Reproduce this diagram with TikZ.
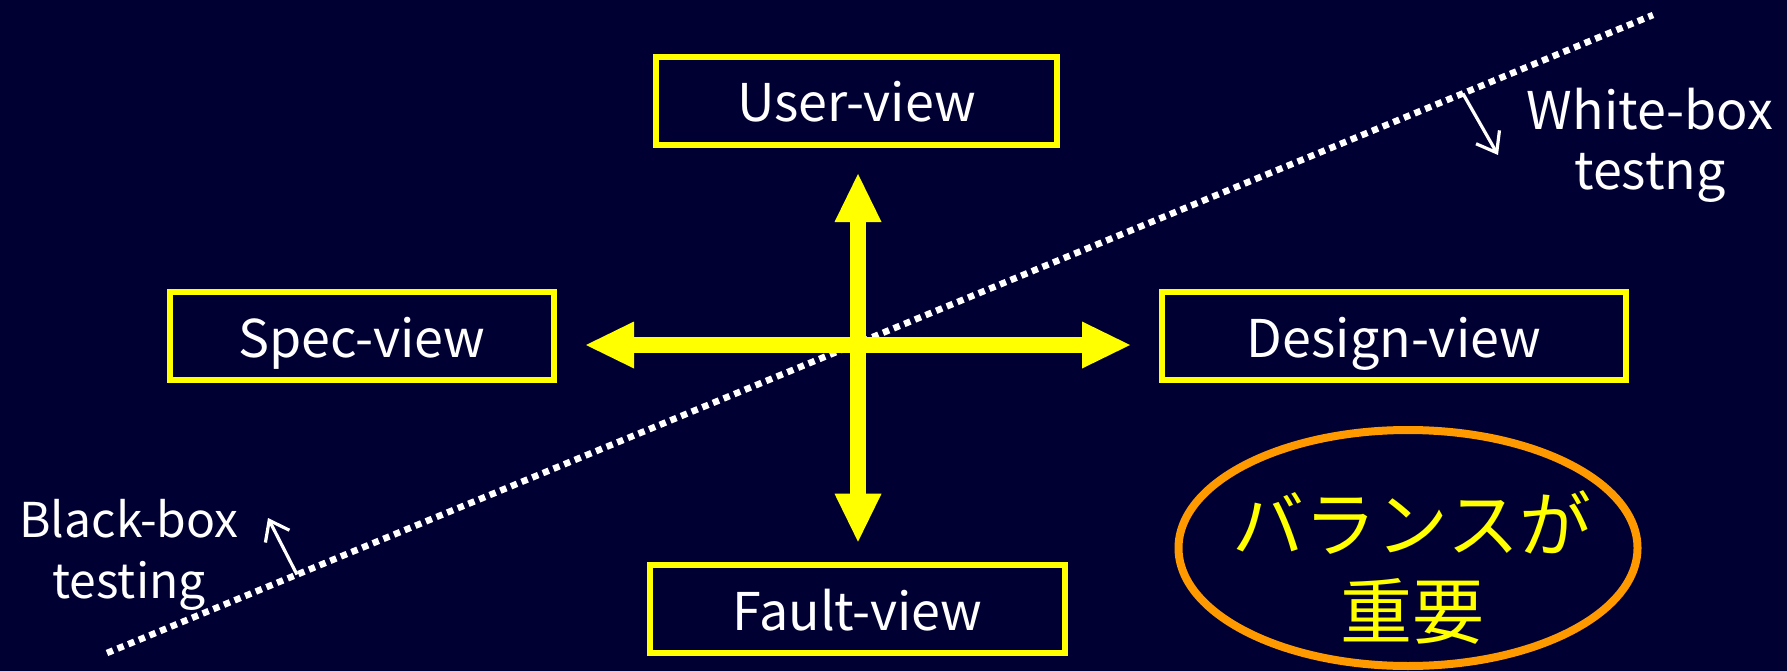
\documentclass[tikz,border=0pt]{standalone}
\usepackage{fontspec}
\setmainfont{Noto Sans CJK JP}
\usetikzlibrary{arrows.meta,shapes.geometric,calc}
\definecolor{bg}{HTML}{000033}
\definecolor{boxyellow}{HTML}{FFFF00}
\definecolor{balorange}{HTML}{FF9900}
\begin{document}
\begin{tikzpicture}[x=1pt,y=-1pt,
  viewbox/.style={draw=boxyellow, line width=6pt, minimum height=88pt, inner sep=0pt,
    text=white, font=\fontsize{52}{60}\selectfont, text height=44pt, text depth=2pt},
  bigarrow/.style={boxyellow, line width=16pt,
    {Triangle[length=48pt,width=47pt,line width=0pt]}-{Triangle[length=48pt,width=47pt,line width=0pt]}},
  boundary/.style={white, line width=6.5pt, dash pattern=on 6.5pt off 5pt},
  pointer/.style={white, line width=3.2pt, -{Straight Barb[length=18pt,width=27pt]}},
  note/.style={text=white, align=center, inner sep=0pt}
]
% background
\fill[bg] (0,0) rectangle (1787,671);
\useasboundingbox (0,0) rectangle (1787,671);

% black-box / white-box boundary
\coordinate (lineA) at (107,653);
\coordinate (lineB) at (1653,15);
\draw[boundary] (lineA) -- (lineB);

% the four views
\node[viewbox, minimum width=401pt] (user)   at (856.5,101) {User-view};
\node[viewbox, minimum width=384pt] (spec)   at (362,336)   {Spec-view};
\node[viewbox, minimum width=464pt] (design) at (1394,336)  {Design-view};
\node[viewbox, minimum width=415pt] (fault)  at (857.5,609) {Fault-view};

% cross of double arrows
\coordinate (vtop)   at (858,174);
\coordinate (vbot)   at (858,541.7);
\coordinate (hleft)  at (586,345);
\coordinate (hright) at (1130,345);
\draw[bigarrow] (vtop) -- (vbot);
\draw[bigarrow] (hleft) -- (hright);

% side labels with pointers
\node[note, font=\fontsize{52}{60}\selectfont] (wlabel) at (1650,145) {White-box\\testng};
\node[note, font=\fontsize{48}{61}\selectfont] (blabel) at (129,555) {Black-box\\testing};
\coordinate (wstart) at ($(lineA)!0.877!(lineB)$);
\coordinate (wend)   at (1498,155);
\coordinate (bstart) at ($(lineA)!0.1229!(lineB)$);
\coordinate (bend)   at (268,518);
\draw[pointer] (wstart) -- (wend);
\draw[pointer] (bstart) -- (bend);

% balance note
\node[draw=balorange, line width=8pt, ellipse, minimum width=459pt, minimum height=236pt,
  inner sep=0pt] (balance) at (1408,548) {};
\node[text=boxyellow, align=center, font=\fontsize{72}{87}\selectfont, inner sep=0pt]
  (balancetext) at (1412,567) {バランスが\\重要};
\end{tikzpicture}
\end{document}
